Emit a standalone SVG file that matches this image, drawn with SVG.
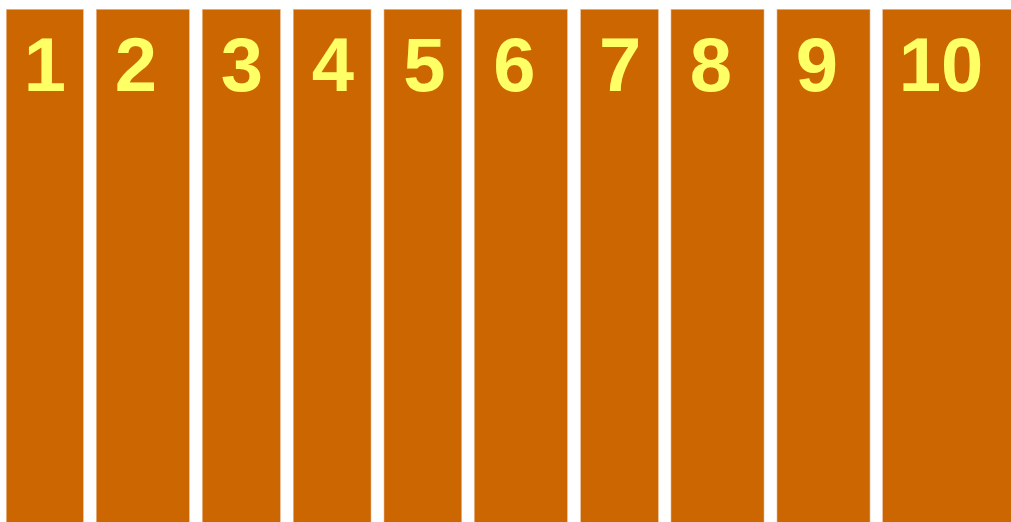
<svg xmlns="http://www.w3.org/2000/svg" width="1011" height="522" viewBox="0 0 1011 522">
<style>
.bar{fill:#CC6600;stroke:#E8B890;stroke-width:0.6}
.lbl{font-family:"Liberation Sans",Arial,sans-serif;font-weight:bold;font-size:76px;fill:#FFFF66;text-anchor:middle}
</style>
<rect width="1011" height="522" fill="#ffffff"/>
<g id="col1"><rect class="bar" x="6.3" y="9.3" width="77" height="520"/><text class="lbl" x="45" y="91">1</text></g>
<g id="col2"><rect class="bar" x="96.3" y="9.3" width="93" height="520"/><text class="lbl" x="136" y="91">2</text></g>
<g id="col3"><rect class="bar" x="202.3" y="9.3" width="78" height="520"/><text class="lbl" x="242" y="91">3</text></g>
<g id="col4"><rect class="bar" x="293.3" y="9.3" width="77.7" height="520"/><text class="lbl" x="333" y="91">4</text></g>
<g id="col5"><rect class="bar" x="384" y="9.3" width="77.7" height="520"/><text class="lbl" x="424.3" y="91">5</text></g>
<g id="col6"><rect class="bar" x="474.3" y="9.3" width="93" height="520"/><text class="lbl" x="514.5" y="91">6</text></g>
<g id="col7"><rect class="bar" x="580.7" y="9.3" width="77.6" height="520"/><text class="lbl" x="620.2" y="91">7</text></g>
<g id="col8"><rect class="bar" x="671" y="9.3" width="93" height="520"/><text class="lbl" x="711" y="91">8</text></g>
<g id="col9"><rect class="bar" x="777" y="9.3" width="93" height="520"/><text class="lbl" x="817" y="91">9</text></g>
<g id="col10"><rect class="bar" x="882.7" y="9.3" width="140" height="520"/><text class="lbl" x="941" y="91">10</text></g>
<g id="connectors"></g>
</svg>
